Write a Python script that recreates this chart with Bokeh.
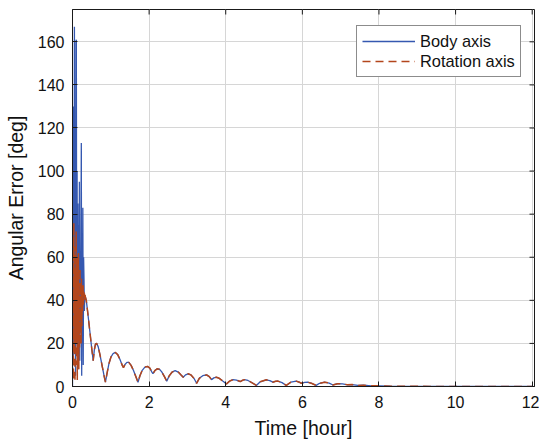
import math
from bokeh.plotting import figure
from bokeh.models import Range1d, FixedTicker, Legend, LegendItem
from bokeh.embed import file_html
from bokeh.resources import INLINE

# ---- data ----
head_body_t = [0.00, 0.01, 0.02, 0.03, 0.04, 0.05, 0.06, 0.07, 0.08, 0.09, 0.10, 0.11,
               0.12, 0.13, 0.14, 0.15, 0.16, 0.17, 0.18, 0.19, 0.20, 0.21, 0.22, 0.23,
               0.24, 0.25, 0.26, 0.27, 0.28, 0.29, 0.30, 0.31, 0.32]
head_body_err = [0, 95, 10, 130, 30, 167, 20, 110, 5, 160, 161, 40,
                 100, 15, 85, 8, 75, 30, 95, 12, 60, 25, 70, 113,
                 5, 55, 20, 83, 10, 60, 50, 35, 42]

head_rot_t = [0.005, 0.015, 0.025, 0.035, 0.045, 0.055, 0.065, 0.075, 0.085, 0.095,
              0.105, 0.115, 0.125, 0.135, 0.145, 0.155, 0.165, 0.175, 0.185, 0.195,
              0.205, 0.215, 0.225, 0.235, 0.245, 0.255, 0.265, 0.275, 0.285, 0.295,
              0.305, 0.315]
head_rot_err = [5, 70, 3, 76, 15, 65, 2, 55, 20, 72,
                10, 60, 3, 50, 25, 62, 8, 45, 18, 55,
                30, 48, 20, 50, 28, 45, 35, 48, 38, 44,
                40, 44]

tail_t = [0.33, 0.36, 0.40, 0.45, 0.50, 0.54, 0.57, 0.60, 0.63, 0.67, 0.72, 0.78, 0.83, 0.86,
          0.90, 0.95, 1.00, 1.06, 1.12, 1.18, 1.24, 1.30, 1.33, 1.37, 1.42, 1.47, 1.53, 1.59,
          1.65, 1.71, 1.76, 1.82, 1.89, 1.96, 2.02, 2.07, 2.10, 2.15, 2.21, 2.27, 2.33, 2.40,
          2.46, 2.52, 2.60, 2.68, 2.76, 2.84, 2.89, 2.95, 3.02, 3.09, 3.17, 3.24, 3.31, 3.40,
          3.50, 3.57, 3.63, 3.69, 3.76, 3.83, 3.93, 4.02, 4.10, 4.19, 4.28, 4.38, 4.44, 4.49,
          4.58, 4.70, 4.80, 4.90, 5.06, 5.15, 5.23, 5.30, 5.36, 5.47, 5.58, 5.70, 5.84, 5.92,
          5.97, 6.06, 6.14, 6.25, 6.36, 6.45, 6.58, 6.70, 6.80, 6.92, 7.05, 7.18, 7.30, 7.45,
          7.60, 7.80, 8.00, 8.30, 8.80, 9.50, 12.00]
tail_err = [42, 40, 34, 26, 18, 12, 17, 19.7, 20, 18.5, 14.5, 9, 4.5, 2,
            6, 10.5, 13.5, 15.3, 15.8, 14.8, 12.5, 9.8, 8.8, 10.2, 11.2, 11.2, 9.8, 7.5,
            4.8, 2, 5, 7.5, 9, 9.3, 8.5, 6.8, 5.9, 7.4, 8.2, 8.0, 6.8, 4.6,
            2.5, 4.8, 6.7, 7.4, 6.7, 5.2, 4.3, 5.4, 5.9, 5.4, 3.8, 1.5, 3.8, 5.0,
            5.4, 4.6, 3.2, 4.0, 4.3, 3.8, 2.4, 1.2, 2.5, 3.2, 3.0, 2.3, 2.9, 3.2,
            2.8, 1.6, 0.5, 2.2, 3.1, 2.7, 2.0, 2.4, 2.5, 1.8, 0.5, 2.0, 2.5, 2.0,
            1.5, 1.9, 2.0, 1.4, 0.5, 1.5, 2.0, 1.6, 0.7, 1.3, 1.2, 0.8, 0.9, 0.5,
            0.6, 0.3, 0.3, 0.15, 0.1, 0.02, 0.0]

x_ticks = [0, 2, 4, 6, 8, 10, 12]
y_ticks = [0, 20, 40, 60, 80, 100, 120, 140, 160]

body_t = head_body_t + tail_t
body_err = head_body_err + tail_err
rot_t = head_rot_t + tail_t
rot_err = head_rot_err + tail_err

FONT = "Liberation Sans"
BLUE = "#3558b0"
ORANGE = "#b3461c"
INK = "#1a1a1a"
X_END, Y_END = 12.06, 175

p = figure(width=539, height=442, output_backend="svg", toolbar_location=None,
           x_range=Range1d(0, X_END), y_range=Range1d(0, Y_END),
           min_border_left=72, min_border_right=5, min_border_top=9, min_border_bottom=56,
           x_axis_label="Time [hour]", y_axis_label="Angular Error [deg]")
p.background_fill_color = "white"
p.border_fill_color = "white"
p.outline_line_color = INK
p.outline_line_width = 1

p.xgrid.ticker = FixedTicker(ticks=x_ticks)
p.ygrid.ticker = FixedTicker(ticks=y_ticks)
p.grid.grid_line_color = "#d6d6d6"
p.grid.grid_line_width = 1

r_body = p.line(body_t, body_err, line_color=BLUE, line_width=1.3)
r_rot = p.line(rot_t, rot_err, line_color=ORANGE, line_width=1.5, line_dash="8 5")

# inner ticks on the right and top frame edges (MATLAB box style)
p.scatter([X_END] * len(y_ticks), y_ticks, marker="dash", size=10,
          line_color=INK, line_width=1)
p.scatter(x_ticks, [Y_END] * len(x_ticks), marker="dash", size=10, angle=math.pi / 2,
          line_color=INK, line_width=1)

for ax, ticks in ((p.xaxis[0], x_ticks), (p.yaxis[0], y_ticks)):
    ax.ticker = FixedTicker(ticks=ticks)
    ax.major_tick_in = 5
    ax.major_tick_out = 0
    ax.minor_tick_in = 0
    ax.minor_tick_out = 0
    ax.axis_line_color = INK
    ax.major_tick_line_color = INK
    ax.major_label_text_font = FONT
    ax.major_label_text_font_size = "16px"
    ax.major_label_text_color = "#111111"
    ax.axis_label_text_font = FONT
    ax.axis_label_text_font_size = "19.5px"
    ax.axis_label_text_font_style = "normal"
    ax.axis_label_text_color = "#111111"

p.xaxis[0].major_label_standoff = 9
p.xaxis[0].axis_label_standoff = 6
p.yaxis[0].major_label_standoff = 8
p.yaxis[0].axis_label_standoff = 8

legend = Legend(items=[LegendItem(label="Body axis", renderers=[r_body]),
                       LegendItem(label="Rotation axis", renderers=[r_rot])],
                location=(284, 309), margin=0, padding=5, spacing=0,
                glyph_width=53, glyph_height=20, label_height=20, label_standoff=5,
                label_text_font=FONT, label_text_font_size="16.4px",
                label_text_color="#111111",
                border_line_color=INK, border_line_width=1,
                background_fill_color="white", background_fill_alpha=1)
p.add_layout(legend, "center")

open("out.html", "w").write(file_html(p, INLINE))
